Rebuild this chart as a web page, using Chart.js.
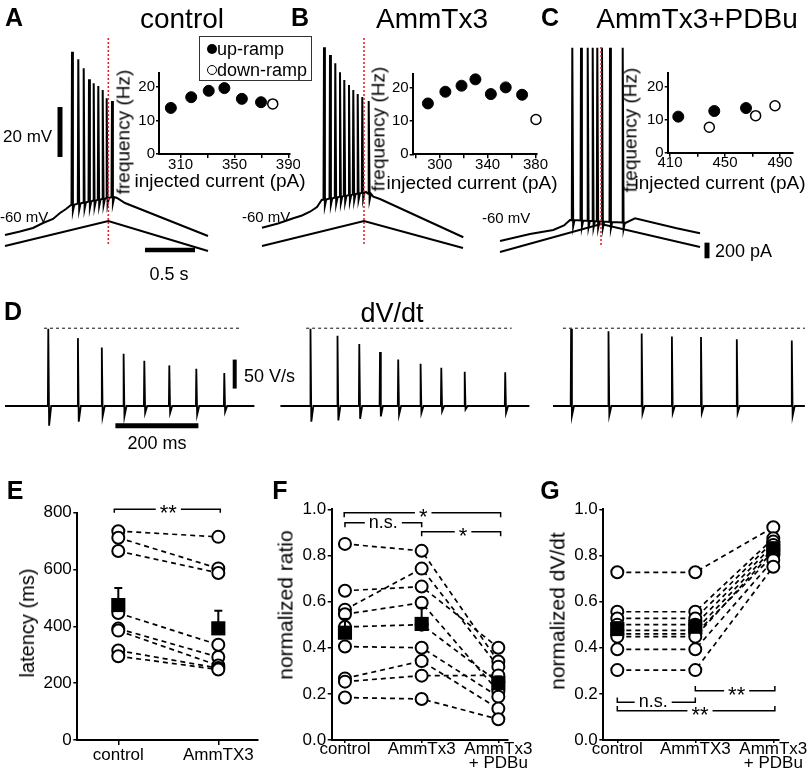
<!DOCTYPE html>
<html>
<head>
<meta charset="utf-8">
<script src="https://cdn.jsdelivr.net/npm/chart.js@4.4.0/dist/chart.umd.min.js"></script>
<style>
html, body { margin: 0; background: #fff; }
#fig { position: relative; width: 810px; height: 783px; overflow: hidden; font-family: "Liberation Sans", Arial, Helvetica, sans-serif; color: #000; }
#fig canvas { position: absolute; }
.t { position: absolute; white-space: nowrap; line-height: 1; }
.b { font-weight: bold; }
.c { transform: translate(-50%, -50%); }
.l { transform: translate(0, -50%); }
.rot { transform: translate(-50%, -50%) rotate(-90deg); }
.dot { position: absolute; width: 10px; height: 10px; border-radius: 50%; box-sizing: border-box; }
</style>
</head>
<body>
<div id="fig">
  <canvas id="trA" width="230" height="240" style="left:0;top:30px"></canvas>
  <canvas id="trB" width="230" height="240" style="left:250px;top:30px"></canvas>
  <canvas id="trC" width="230" height="240" style="left:490px;top:30px"></canvas>
  <canvas id="inA" width="190" height="145" style="left:110px;top:60px"></canvas>
  <canvas id="inB" width="185" height="145" style="left:365px;top:60px"></canvas>
  <canvas id="inC" width="190" height="145" style="left:620px;top:60px"></canvas>
  <canvas id="dv1" width="270" height="124" style="left:0;top:318px"></canvas>
  <canvas id="dv2" width="270" height="124" style="left:270px;top:318px"></canvas>
  <canvas id="dv3" width="270" height="124" style="left:540px;top:318px"></canvas>
  <canvas id="chE" width="270" height="293" style="left:0;top:490px"></canvas>
  <canvas id="chF" width="270" height="293" style="left:270px;top:490px"></canvas>
  <canvas id="chG" width="270" height="293" style="left:540px;top:490px"></canvas>

  <div class="t b c" style="left:14px;top:17px;font-size:25px">A</div>
  <div class="t c" style="left:182px;top:19px;font-size:28px">control</div>
  <div class="t b c" style="left:300px;top:17px;font-size:25px">B</div>
  <div class="t c" style="left:432px;top:19px;font-size:28px">AmmTx3</div>
  <div class="t b c" style="left:550px;top:17px;font-size:25px">C</div>
  <div class="t c" style="left:697px;top:19px;font-size:28px">AmmTx3+PDBu</div>

  <div class="t l" style="left:3px;top:136px;font-size:17px">20 mV</div>
  <div class="t l" style="left:0;top:216px;font-size:15px">-60 mV</div>
  <div class="t l" style="left:242px;top:216px;font-size:15px">-60 mV</div>
  <div class="t l" style="left:482px;top:217px;font-size:15px">-60 mV</div>
  <div class="t c" style="left:169px;top:274px;font-size:18px">0.5 s</div>
  <div class="t l" style="left:715px;top:251px;font-size:18px">200 pA</div>

  <div class="t rot" style="left:123px;top:132px;font-size:19px">frequency (Hz)</div>
  <div class="t c" style="left:220px;top:180px;font-size:19px">injected current (pA)</div>
  <div class="t rot" style="left:378px;top:129px;font-size:19px">frequency (Hz)</div>
  <div class="t c" style="left:472px;top:182px;font-size:19px">injected current (pA)</div>
  <div class="t rot" style="left:630px;top:130px;font-size:19px">frequency (Hz)</div>
  <div class="t c" style="left:720px;top:182px;font-size:19px">injected current (pA)</div>

  <div style="position:absolute;left:199px;top:36px;width:113px;height:45px;border:1px solid #333;box-sizing:border-box"></div>
  <span class="dot" style="left:207px;top:44px;background:#000"></span>
  <div class="t l" style="left:217px;top:49px;font-size:18px">up-ramp</div>
  <span class="dot" style="left:207px;top:65px;background:#fff;border:1.5px solid #000"></span>
  <div class="t l" style="left:217px;top:70px;font-size:18px">down-ramp</div>

  <div class="t b c" style="left:13px;top:311px;font-size:25px">D</div>
  <div class="t c" style="left:392px;top:313px;font-size:27px">dV/dt</div>
  <div class="t l" style="left:244px;top:376px;font-size:18px">50 V/s</div>
  <div class="t c" style="left:157px;top:443px;font-size:18px">200 ms</div>

  <div class="t b c" style="left:15px;top:490px;font-size:25px">E</div>
  <div class="t b c" style="left:280px;top:490px;font-size:25px">F</div>
  <div class="t b c" style="left:550px;top:490px;font-size:25px">G</div>
  <div class="t rot" style="left:27px;top:623px;font-size:20px">latency (ms)</div>
  <div class="t rot" style="left:285px;top:605px;font-size:21px">normalized ratio</div>
  <div class="t rot" style="left:557px;top:611px;font-size:21px">normalized dV/dt</div>
</div>

<script>
const FONT = "'Liberation Sans', Arial, Helvetica, sans-serif";
Chart.defaults.font.family = FONT;
Chart.defaults.color = '#000';

// ---- A-C: ramp traces (time s, voltage mV, current pA) ----
const vBaseA_t = [0, 0.15, 0.28, 0.38, 0.48, 0.55, 0.61, 0.66, 1.07, 1.12, 1.20, 2.03];
const vBaseA_v = [-62.8, -61.4, -60, -58, -56.4, -54, -52.4, -50.8, -47.6, -48, -50, -63.2];
const spikeA_t = [0.67, 0.733, 0.787, 0.84, 0.887, 0.933, 0.977, 1.017, 1.07];
const spikeA_v = [10.5, 7.5, 3.9, -0.5, -2.1, -3.2, -4.8, -8.1, -9.2];
const rampA_t = [0, 1.033, 2.03];
const rampA_i = [51, 371, -13];

const vBaseB_t = [0, 0.16, 0.313, 0.40, 0.48, 0.55, 0.597, 1.04, 1.113, 1.18, 2.013];
const vBaseB_v = [-59.9, -58.2, -56.1, -55, -53.5, -51.6, -48.8, -45.6, -47.5, -48.4, -63.7];
const spikeB_t = [0.62, 0.68, 0.733, 0.78, 0.823, 0.87, 0.913, 0.957, 1.003, 1.067];
const spikeB_v = [12.3, 9.2, 5.9, 2.3, -0.8, -2.8, -4.8, -6.4, -7.6, -9.2];
const rampB_t = [0, 1.02, 2.01];
const rampB_i = [51, 371, 26];

const vBaseC_t = [0, 0.30, 0.533, 0.64, 0.70, 1.26, 1.35, 1.767, 2.0];
const vBaseC_v = [-65.2, -62.4, -60.8, -59, -56.8, -57.9, -56.1, -60.1, -62.1];
const spikeC_t = [0.723, 0.81, 0.877, 0.927, 0.973, 1.02, 1.10, 1.227];
const spikeC_v = [12.1, 12.1, 12.1, 12.1, 12.1, 12.1, 12.1, 12.1];
const rampC_t = [0, 1.01, 2.0];
const rampC_i = [-26, 333, 38];

// ---- insets: frequency vs injected current ----
const upA_x = [302.8, 317.9, 330.9, 342.5, 355.5, 369.7];
const upA_y = [13.7, 16.9, 18.8, 19.6, 16.4, 15.4];
const downA_x = [378.4];
const downA_y = [14.9];
const upB_x = [290.1, 304.7, 318.2, 329.8, 342.7, 355.1, 368.8];
const upB_y = [15.2, 18.7, 20.5, 22.4, 18.0, 20.0, 17.8];
const downB_x = [380.4];
const downB_y = [10.4];
const upC_x = [416, 442.2, 465.3];
const upC_y = [10.9, 12.6, 13.5];
const downC_x = [438.6, 472.3, 486.4];
const downC_y = [7.7, 11.2, 14.2];
const freqTicks = [0, 10, 20];
const curTicksA = [310, 330, 350, 370, 390], curLabA = [310, 350, 390];
const curTicksB = [280, 300, 320, 340, 360, 380], curLabB = [300, 340, 380];
const curTicksC = [410, 430, 450, 470, 490], curLabC = [410, 450, 490];

// ---- D: dV/dt traces (ms, V/s) ----
const dv1_t = [104.3, 175.7, 233.3, 285.8, 335.7, 395.9, 461.0, 528.4];
const dv1_peak = [133, 117, 101, 90, 78, 70, 64, 57];
const dv1_min = [-34, -27, -18, -18, -12, -12, -15, -10];
const dv2_t = [72.5, 137.6, 190.1, 240, 283.9, 337.8, 387.7, 444.1, 541.7];
const dv2_peak = [133, 121, 107, 93, 80, 73, 66, 59, 58];
const dv2_min = [-27, -25, -22, -18, -15, -12, -9, -6, -12];
const dv3_t = [43.6, 133.7, 213.7, 286.5, 356.6, 442.9, 575.4];
const dv3_peak = [133, 129, 125, 120, 119, 115, 113];
const dv3_min = [-17, -16, -13, -12, -12, -12, -17];
const dvEnd = [601, 600, 607];
const dvRef = 134;

// ---- E: latency (ms) ----
const latNames = ['control', 'AmmTX3'];
const latControl = [735, 712, 665, 447, 392, 385, 315, 295];
const latAmm = [715, 604, 588, 335, 292, 262, 253, 248];
const latMean = [475, 393];
const latSem = [60, 62];
const latTicks = [0, 200, 400, 600, 800];

// ---- F: normalized ratio ----
const ratioNames = ['control', 'AmmTx3', ['AmmTx3', '+ PDBu']];
const ratioControl = [0.85, 0.647, 0.565, 0.545, 0.49, 0.405, 0.267, 0.253, 0.184];
const ratioAmm = [0.82, 0.665, 0.743, 0.595, 0.50, 0.40, 0.342, 0.279, 0.178];
const ratioPdbu = [0.34, 0.40, 0.318, 0.21, 0.25, 0.188, 0.136, 0.28, 0.09];
const ratioMean = [0.465, 0.503, 0.246];
const ratioSem = [0.06, 0.07, 0.03];

// ---- G: normalized dV/dt ----
const dvdtNames = ['control', 'AmmTX3', ['AmmTx3', '+ PDBu']];
const dvdtControl = [0.727, 0.556, 0.527, 0.50, 0.475, 0.46, 0.448, 0.393, 0.303];
const dvdtAmm = [0.727, 0.556, 0.527, 0.50, 0.475, 0.46, 0.448, 0.393, 0.303];
const dvdtPdbu = [0.922, 0.874, 0.86, 0.845, 0.83, 0.80, 0.82, 0.78, 0.751];
const dvdtMean = [0.481, 0.491, 0.831];
const dvdtSem = [0.03, 0.03, 0.02];
const unitTicks = [0, 0.2, 0.4, 0.6, 0.8, 1.0];

function lerp(ts, vs, t) {
  if (t <= ts[0]) return vs[0];
  for (let i = 1; i < ts.length; i++) {
    if (t <= ts[i]) return vs[i - 1] + (vs[i] - vs[i - 1]) * (t - ts[i - 1]) / (ts[i] - ts[i - 1]);
  }
  return vs[vs.length - 1];
}

// baseline polyline plus spikes; low = array of troughs or offset below baseline
function spikeTrace(baseT, baseV, spT, spPeak, low, shape) {
  const [pre, post, rec] = shape;
  const pts = [];
  baseT.forEach((t, i) => {
    if (!spT.some(s => t > s - pre && t < s + rec)) pts.push({x: t, y: baseV[i]});
  });
  spT.forEach((s, i) => {
    const b = lerp(baseT, baseV, s);
    const lo = Array.isArray(low) ? low[i] : b + low;
    pts.push({x: s - pre, y: b}, {x: s, y: spPeak[i]}, {x: s + post, y: lo}, {x: s + rec, y: b});
  });
  return pts.sort((a, b) => a.x - b.x);
}

const xy = (xs, ys) => xs.map((x, i) => ({x: x, y: ys[i]}));

function line(data, extra) {
  return Object.assign({data: data, showLine: true, pointRadius: 0, borderColor: '#000',
    borderWidth: 2, fill: false, clip: false, borderCapStyle: 'butt'}, extra || {});
}

function baseOpts(scales, extra) {
  return Object.assign({
    responsive: false, animation: false, devicePixelRatio: 1, events: [],
    layout: {padding: 0},
    plugins: {legend: {display: false}, tooltip: {enabled: false}},
    scales: scales
  }, extra || {});
}

const red = {borderColor: '#e3262b', borderWidth: 1.6, borderDash: [2, 2]};

function traceChart(id, xr, datasets) {
  new Chart(document.getElementById(id), {
    type: 'scatter',
    data: {datasets: datasets},
    options: baseOpts({
      x: {type: 'linear', display: false, min: xr[0], max: xr[1]},
      y: {type: 'linear', display: false, min: -76.8, max: 19.2},
      yI: {type: 'linear', display: false, min: -256, max: 2816}
    })
  });
}

const apShape = [0.005, 0.009, 0.022];

traceChart('trA', [-0.05, 2.25], [
  line([{x: 1.033, y: 16}, {x: 1.033, y: -66.8}], red),
  line(spikeTrace(vBaseA_t, vBaseA_v, spikeA_t, spikeA_v, -2.5, apShape)),
  line(xy(rampA_t, rampA_i), {yAxisID: 'yI'}),
  line([{x: 0.55, y: -31.6}, {x: 0.55, y: -11.6}], {borderWidth: 5}),
  line([{x: 1.40, y: -68.8}, {x: 1.90, y: -68.8}], {borderWidth: 4.5})
]);
traceChart('trB', [-0.12, 2.18], [
  line([{x: 1.02, y: 16}, {x: 1.02, y: -66.8}], red),
  line(spikeTrace(vBaseB_t, vBaseB_v, spikeB_t, spikeB_v, -2.5, apShape)),
  line(xy(rampB_t, rampB_i), {yAxisID: 'yI'})
]);
traceChart('trC', [-0.10, 2.20], [
  line([{x: 1.01, y: 12.4}, {x: 1.01, y: -67.6}], red),
  line(spikeTrace(vBaseC_t, vBaseC_v, spikeC_t, spikeC_v, -2.5, apShape)),
  line(xy(rampC_t, rampC_i), {yAxisID: 'yI'}),
  line([{x: 2.07, y: -106}, {x: 2.07, y: 94}], {yAxisID: 'yI', borderWidth: 5})
]);

function insetChart(id, up, down, o) {
  const axisGrid = (len) => ({drawOnChartArea: false, tickLength: len, color: '#000', lineWidth: 1.5});
  new Chart(document.getElementById(id), {
    type: 'scatter',
    data: {datasets: [
      {data: up, pointRadius: 5.5, backgroundColor: '#000', borderColor: '#000', borderWidth: 1, clip: false},
      {data: down, pointRadius: 5, backgroundColor: '#fff', borderColor: '#000', borderWidth: 1.5, clip: false}
    ]},
    options: baseOpts({
      x: {type: 'linear', min: o.xr[0], max: o.xr[1],
          afterFit: s => { s.height = o.xh; },
          afterBuildTicks: s => { s.ticks = o.xt.map(v => ({value: v})); },
          ticks: {callback: v => o.xl.includes(v) ? String(v) : '', font: {size: 15, lineHeight: 1},
                  padding: -1, maxRotation: 0, autoSkip: false},
          grid: axisGrid(4), border: {color: '#000', width: 2}},
      y: {min: 0, max: 24,
          afterFit: s => { s.width = o.yw; },
          afterBuildTicks: s => { s.ticks = freqTicks.map(v => ({value: v})); },
          ticks: {font: {size: 15}, padding: 1},
          grid: axisGrid(3), border: {color: '#000', width: 2}}
    }, {layout: {padding: {top: o.pt, right: o.pr, left: 0, bottom: 0}}})
  });
}

insetChart('inA', xy(upA_x, upA_y), xy(downA_x, downA_y),
  {xr: [294, 391], xt: curTicksA, xl: curLabA, xh: 51, yw: 49, pt: 13.3, pr: 10});
insetChart('inB', xy(upB_x, upB_y), xy(downB_x, downB_y),
  {xr: [277.4, 381], xt: curTicksB, xl: curLabB, xh: 50.7, yw: 47.7, pt: 14, pr: 13.3});
insetChart('inC', xy(upC_x, upC_y), xy(downC_x, downC_y),
  {xr: [408.3, 499.5], xt: curTicksC, xl: curLabC, xh: 52.3, yw: 47.7, pt: 13.3, pr: 17});

// D: dV/dt
function dvChart(id, xr, spT, peak, low, end, ref, extra) {
  const ds = [
    line(spikeTrace([0, end], [0, 0], spT, peak, low, [1, 2, 7]), {borderWidth: 1.8}),
    line([{x: ref[0], y: dvRef}, {x: ref[1], y: dvRef}], {borderColor: '#444', borderWidth: 1.3, borderDash: [3, 3]})
  ].concat(extra || []);
  new Chart(document.getElementById(id), {
    type: 'scatter',
    data: {datasets: ds},
    options: baseOpts({
      x: {type: 'linear', display: false, min: xr[0], max: xr[1]},
      y: {type: 'linear', display: false, min: -62.1, max: 151.7}
    })
  });
}

dvChart('dv1', [-12.05, 638.55], dv1_t, dv1_peak, dv1_min, dvEnd[0], [94, 564], [
  line([{x: 553.5, y: 30}, {x: 553.5, y: 80}], {borderWidth: 4}),
  line([{x: 266, y: -34}, {x: 466, y: -34}], {borderWidth: 5})
]);
dvChart('dv2', [-25.06, 625.54], dv2_t, dv2_peak, dv2_min, dvEnd[1], [62, 557]);
dvChart('dv3', [-31.33, 619.28], dv3_t, dv3_peak, dv3_min, dvEnd[2], [24, 607]);

// significance text drawn over bracket lines
const sigText = {
  id: 'sigText',
  afterDatasetsDraw(chart, args, opts) {
    const ctx = chart.ctx, xs = chart.scales.x, ys = chart.scales.y;
    (opts.items || []).forEach(it => {
      const px = xs.getPixelForValue(it.x), py = ys.getPixelForValue(it.y);
      ctx.save();
      ctx.font = it.size + 'px ' + FONT;
      const w = ctx.measureText(it.text).width + 8;
      ctx.fillStyle = '#fff';
      ctx.fillRect(px - w / 2, py - 3, w, 6);
      ctx.fillStyle = '#000';
      ctx.textAlign = 'center';
      ctx.textBaseline = 'middle';
      ctx.fillText(it.text, px, py + it.dy);
      ctx.restore();
    });
  }
};

function statChart(id, o) {
  const ds = [];
  ds.push({data: o.mean.map((m, i) => ({x: i + 1, y: m})), showLine: false, pointStyle: 'rect',
    pointRadius: 10, backgroundColor: '#000', borderColor: '#000', borderWidth: 0, clip: false});
  ds.push({data: o.mean.map((m, i) => ({x: i + 1, y: m + o.sem[i]})), showLine: false, pointStyle: 'line',
    pointRadius: 4, borderColor: '#000', borderWidth: 2, clip: false});
  o.mean.forEach((m, i) => ds.push(line([{x: i + 1, y: m}, {x: i + 1, y: m + o.sem[i]}])));
  o.groups.forEach((g, gi) => ds.push({data: g.map(v => ({x: gi + 1, y: v})), showLine: false,
    pointStyle: 'circle', pointRadius: 6, borderWidth: 2, borderColor: '#000', backgroundColor: '#fff', clip: false}));
  o.groups[0].forEach((_, ci) => ds.push(line(o.groups.map((g, gi) => ({x: gi + 1, y: g[ci]})),
    {borderWidth: 1.7, borderDash: [5, 4]})));
  o.sig.forEach(s => ds.push(line([{x: s.from, y: s.at + s.tick}, {x: s.from, y: s.at},
    {x: s.to, y: s.at}, {x: s.to, y: s.at + s.tick}], {borderWidth: 1.5})));

  const grid = (len) => ({drawOnChartArea: false, tickLength: len, color: '#000', lineWidth: 1.5});
  new Chart(document.getElementById(id), {
    type: 'scatter',
    data: {datasets: ds},
    plugins: [sigText],
    options: baseOpts({
      x: {type: 'linear', min: o.xr[0], max: o.xr[1],
          afterFit: s => { s.height = 43; },
          afterBuildTicks: s => { s.ticks = o.names.map((_, i) => ({value: i + 1})); },
          ticks: {callback: (v, i) => o.names[i], font: {size: 17, lineHeight: 0.85},
                  padding: o.xPad, maxRotation: 0, autoSkip: false},
          grid: grid(o.xTick), border: {color: '#000', width: 2}},
      y: {min: o.yr[0], max: o.yr[1],
          afterFit: s => { s.width = o.yw; },
          afterBuildTicks: s => { s.ticks = o.yTicks.map(v => ({value: v})); },
          ticks: {callback: o.yFmt, font: {size: 17}, padding: 1.5},
          grid: grid(4), border: {color: '#000', width: 2}}
    }, {
      layout: {padding: {top: o.pt, right: o.pr, left: 0, bottom: 0}},
      plugins: {legend: {display: false}, tooltip: {enabled: false},
                sigText: {items: o.sig.map(s => ({x: s.tx, y: s.at, text: s.text,
                  size: s.text === 'n.s.' ? 18 : 22, dy: s.text === 'n.s.' ? 0 : 5}))}}
    })
  });
}

statChart('chE', {
  names: latNames, groups: [latControl, latAmm], mean: latMean, sem: latSem,
  xr: [0.59, 2.397], yr: [0, 800], yTicks: latTicks, yFmt: v => String(v),
  yw: 77.3, pt: 22.7, pr: 12, xPad: 3, xTick: 5,
  sig: [{from: 0.96, to: 2.02, at: 812, tick: -12, text: '**', tx: 1.5}]
});
statChart('chF', {
  names: ratioNames, groups: [ratioControl, ratioAmm, ratioPdbu], mean: ratioMean, sem: ratioSem,
  xr: [0.827, 3.126], yr: [0, 1], yTicks: unitTicks, yFmt: v => v.toFixed(1),
  yw: 61.7, pt: 19.3, pr: 32, xPad: -1, xTick: 3,
  sig: [{from: 0.99, to: 3.03, at: 0.985, tick: -0.02, text: '*', tx: 2.02},
        {from: 1.0, to: 2.0, at: 0.942, tick: -0.02, text: 'n.s.', tx: 1.5},
        {from: 2.0, to: 3.03, at: 0.903, tick: -0.02, text: '*', tx: 2.54}]
});
statChart('chG', {
  names: dvdtNames, groups: [dvdtControl, dvdtAmm, dvdtPdbu], mean: dvdtMean, sem: dvdtSem,
  xr: [0.8205, 3.073], yr: [0, 1], yTicks: unitTicks, yFmt: v => v.toFixed(1),
  yw: 63.3, pt: 19.3, pr: 31, xPad: -1, xTick: 3,
  sig: [{from: 2.0, to: 3.02, at: 0.214, tick: 0.02, text: '**', tx: 2.53},
        {from: 1.0, to: 2.0, at: 0.164, tick: 0.02, text: 'n.s.', tx: 1.46},
        {from: 1.0, to: 3.02, at: 0.127, tick: 0.02, text: '**', tx: 2.06}]
});
</script>
</body>
</html>
